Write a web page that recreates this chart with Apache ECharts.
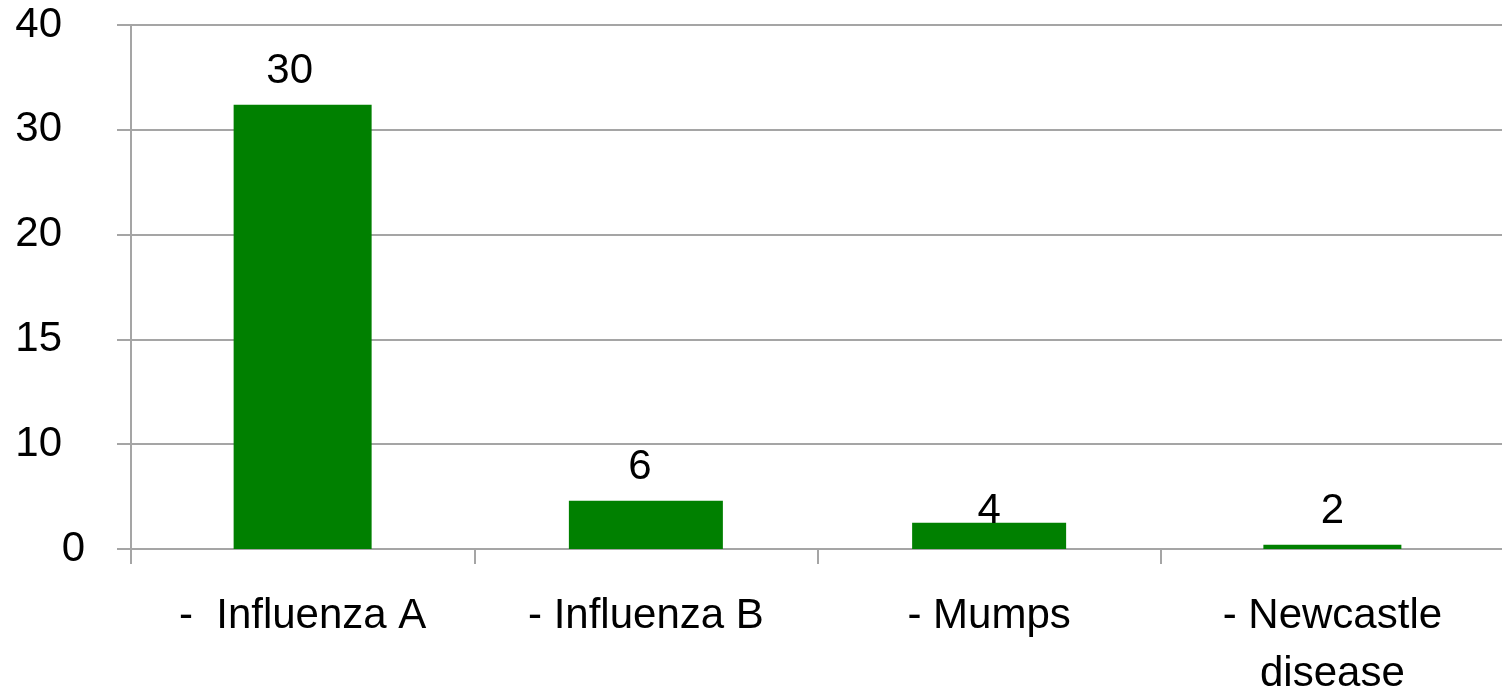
<!DOCTYPE html>
<html>
<head>
<meta charset="utf-8">
<script src="https://cdn.jsdelivr.net/npm/echarts@6/dist/echarts.min.js"></script>
<style>
  html, body { margin: 0; padding: 0; background: #fff; }
  #chart { width: 1502px; height: 691px; }
</style>
</head>
<body>
<div id="chart"></div>
<script>
// categories
const categories = ['-  Influenza A', '- Influenza B', '- Mumps', '- Newcastle\ndisease'];
// bar heights, in gridline steps (axis runs 0..5)
const barHeights = [4.24, 0.46, 0.25, 0.04];
// the numbers printed above the bars
const valueLabels = ['30', '6', '4', '2'];
// y tick labels, one per gridline from bottom to top
const tickLabels = ['0', '10', '15', '20', '30', '40'];

const chart = echarts.init(document.getElementById('chart'));
const font = '"Liberation Sans", Arial, sans-serif';
const grey = '#a5a5a5';

// bars 1 and 4 are narrower than 2 and 3 in the original,
// and the value labels are not all centred on their bars
const wide = [false, true, true, false];
const labelShift = [[-13, 0], [-6, 0], [0, 22], [0, 0]];
function build(useWide) {
  return barHeights.map((v, i) => {
    if (wide[i] !== useWide) return '-';
    return { value: v, label: { offset: labelShift[i] } };
  });
}

const label = {
  show: true,
  position: 'top',
  distance: 12,
  fontFamily: font,
  fontSize: 42,
  color: '#000',
  formatter: p => valueLabels[p.dataIndex]
};

chart.setOption({
  animation: false,
  grid: { left: 131, right: -2, top: 25, bottom: 142, outerBoundsMode: 'none' },
  xAxis: [
    {
      type: 'category',
      data: categories,
      axisLine: { show: true, lineStyle: { color: grey, width: 2 } },
      axisTick: { show: true, length: 15, interval: 0, lineStyle: { color: grey, width: 2 } },
      axisLabel: {
        fontFamily: font,
        fontSize: 42,
        color: '#000',
        margin: 38,
        lineHeight: 58,
        interval: 0
      }
    },
    {
      // twin axis so the narrow bars get their own centred layout
      type: 'category',
      data: categories,
      position: 'bottom',
      axisLine: { show: false },
      axisTick: { show: false },
      axisLabel: { show: false }
    }
  ],
  yAxis: {
    type: 'value',
    min: 0,
    max: 5,
    interval: 1,
    axisLine: { show: true, lineStyle: { color: grey, width: 2 } },
    axisTick: { show: true, length: 14, lineStyle: { color: grey, width: 2 } },
    splitLine: { lineStyle: { color: grey, width: 2 } },
    axisLabel: {
      fontFamily: font,
      fontSize: 42,
      color: '#000',
      margin: 46,
      formatter: v => v === 0 ? tickLabels[0] : '{p|' + tickLabels[v] + '}',
      rich: {
        p: { fontFamily: font, fontSize: 42, color: '#000', padding: [0, 23, 0, 0] }
      }
    }
  },
  series: [
    {
      type: 'bar',
      xAxisIndex: 1,
      data: build(false),
      barWidth: 138,
      itemStyle: { color: '#008000' },
      label: label
    },
    {
      type: 'bar',
      xAxisIndex: 0,
      data: build(true),
      barWidth: 154,
      itemStyle: { color: '#008000' },
      label: label
    }
  ]
});
</script>
</body>
</html>
